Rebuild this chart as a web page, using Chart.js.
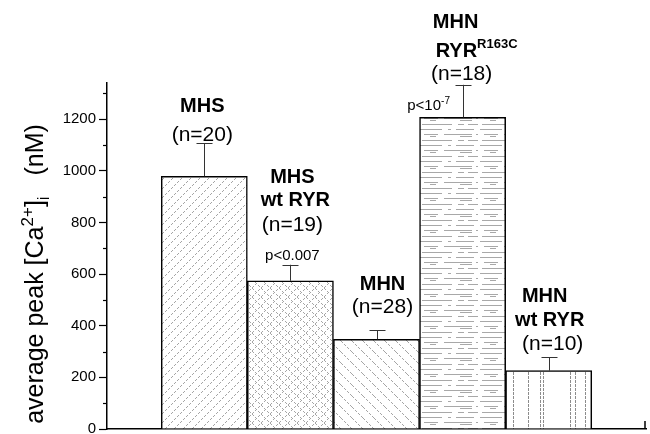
<!DOCTYPE html>
<html>
<head>
<meta charset="utf-8">
<script src="https://cdn.jsdelivr.net/npm/chart.js@4.4.1/dist/chart.umd.min.js"></script>
<style>
  html, body { margin: 0; padding: 0; background: #fff; }
  #wrap { width: 650px; height: 434px; }
</style>
</head>
<body>
<div id="wrap"><canvas id="caChart" width="650" height="434"></canvas></div>
<script>
// Data
const groups = ['MHS', 'MHS wt RYR', 'MHN', 'MHN RYR R163C', 'MHN wt RYR']
const peakCa = [979, 574, 347, 1207, 226]
const peakErr = [127, 62, 36, 126, 51]
const cellCounts = [20, 19, 28, 18, 10]
const yTicks = [0, 200, 400, 600, 800, 1000, 1200]
const yMinorTicks = [100, 300, 500, 700, 900, 1100, 1300]

// text above each bar, bottom line first ( ^{..} = superscript )
const barLabels = [
    ['(n=20)', 'MHS'],
    ['p<0.007', '(n=19)', 'wt RYR', 'MHS'],
    ['(n=28)', 'MHN'],
    ['(n=18)', 'RYR^{R163C}', 'MHN', 'p<10^{-7}'],
    ['(n=10)', 'wt RYR', 'MHN']
]

// placement of those lines relative to the top of the error bar (style only)
const labelLayout = [
    [{dx: -2, dy: -2, f: 'n'}, {dx: -2, dy: -31, f: 'b'}],
    [{dx: 2, dy: -5, f: 'p'}, {dx: 2, dy: -34, f: 'n'}, {dx: 5, dy: -59, f: 'b'}, {dx: 2, dy: -82, f: 'b'}],
    [{dx: 6, dy: -17, f: 'n'}, {dx: 6, dy: -40, f: 'b'}],
    [{dx: -1, dy: -5, f: 'n'}, {dx: 14, dy: -28, f: 'b'}, {dx: -7, dy: -57, f: 'b'}, {dx: -34, dy: 25, f: 'p'}],
    [{dx: 4, dy: -7, f: 'n'}, {dx: 1, dy: -31, f: 'b'}, {dx: -4, dy: -55, f: 'b'}]
]
const fonts = {
    b: {size: 20, weight: 'bold'},
    n: {size: 21, weight: 'normal'},
    p: {size: 15, weight: 'normal'}
}
const FAMILY = '"Liberation Sans", Arial, Helvetica, sans-serif'

// Hatch patterns for the bars
function makePattern(kind) {
    let c = document.createElement('canvas')
    let g
    if (kind == 'slash' || kind == 'back' || kind == 'cross') {
        let s = kind == 'back' ? 11 : 9
        c.width = s; c.height = s
        g = c.getContext('2d')
        g.fillStyle = '#fff'
        g.fillRect(0, 0, s, s)
        g.fillStyle = '#a5a5a5'
        for (let i = 0; i < s; i++) {
            if (i % 3 == 2) continue
            if (kind == 'slash' || kind == 'cross') g.fillRect(i, s - 1 - i, 1, 1)
            if (kind == 'back' || kind == 'cross') g.fillRect(i, i, 1, 1)
        }
    } else if (kind == 'horiz') {
        c.width = 60; c.height = 16
        g = c.getContext('2d')
        g.fillStyle = '#fff'
        g.fillRect(0, 0, 60, 16)
        g.fillStyle = '#a8a8a8'
        g.fillRect(0, 1, 22, 1); g.fillRect(28, 1, 3, 1); g.fillRect(36, 1, 18, 1)
        g.fillRect(4, 6, 14, 1); g.fillRect(24, 6, 28, 1); g.fillRect(56, 6, 2, 1)
        g.fillRect(10, 8, 6, 1); g.fillRect(40, 8, 12, 1)
        g.fillRect(2, 12, 30, 1); g.fillRect(38, 12, 6, 1); g.fillRect(48, 12, 10, 1)
    } else {
        c.width = 100; c.height = 4
        g = c.getContext('2d')
        g.fillStyle = '#fff'
        g.fillRect(0, 0, 100, 4)
        g.fillStyle = '#8c8c8c'
        for (const x of [13, 28, 40, 43, 70, 75, 85]) g.fillRect(x, 0, 1, 3)
    }
    return c.getContext('2d').createPattern(c, 'repeat')
}
const barFills = ['slash', 'cross', 'back', 'horiz', 'vert'].map(makePattern)

// draw text with ^{sup} / _{sub} pieces, centred on x
function drawRich(ctx, str, x, y, size, weight, align) {
    let parts = []
    let re = /([\^_])\{([^}]*)\}|([^\^_]+)/g
    let m
    while ((m = re.exec(str)) !== null) {
        if (m[3]) parts.push({t: m[3], k: 'n'})
        else parts.push({t: m[2], k: m[1] == '^' ? 'sup' : 'sub'})
    }
    let fontFor = k => weight + ' ' + (k == 'n' ? size : Math.round(size * 0.66)) + 'px ' + FAMILY
    let total = 0
    for (const p of parts) { ctx.font = fontFor(p.k); p.w = ctx.measureText(p.t).width; total += p.w }
    let cx = align == 'left' ? x : x - total / 2
    ctx.textBaseline = 'alphabetic'
    ctx.textAlign = 'left'
    for (const p of parts) {
        ctx.font = fontFor(p.k)
        let dy = p.k == 'sup' ? -size * 0.42 : (p.k == 'sub' ? size * 0.22 : 0)
        ctx.fillText(p.t, cx, y + dy)
        cx += p.w
    }
}

const extrasPlugin = {
    id: 'extras',
    afterDatasetsDraw(chart) {
        const ctx = chart.ctx
        const xs = chart.scales.x
        const ys = chart.scales.y
        ctx.save()
        // error bars (upward only)
        ctx.strokeStyle = '#333'
        ctx.lineWidth = 1
        peakCa.forEach((v, i) => {
            let x = Math.round(xs.getPixelForValue(i)) + 0.5
            let y0 = ys.getPixelForValue(v)
            let y1 = ys.getPixelForValue(v + peakErr[i])
            ctx.beginPath()
            ctx.moveTo(x, y0); ctx.lineTo(x, y1)
            ctx.moveTo(x - 8, Math.round(y1) + 0.5); ctx.lineTo(x + 8, Math.round(y1) + 0.5)
            ctx.stroke()
        })
        // labels above bars
        ctx.fillStyle = '#000'
        barLabels.forEach((lines, i) => {
            let x = xs.getPixelForValue(i)
            let top = ys.getPixelForValue(peakCa[i] + peakErr[i])
            lines.forEach((txt, j) => {
                let lay = labelLayout[i][j]
                let f = fonts[lay.f]
                drawRich(ctx, txt, x + lay.dx, top + lay.dy, f.size, f.weight, 'center')
            })
        })
        // minor ticks on y axis
        ctx.strokeStyle = '#000'
        ctx.lineWidth = 1.2
        let left = chart.chartArea.left
        for (const v of yMinorTicks) {
            let y = Math.round(ys.getPixelForValue(v)) + 0.5
            ctx.beginPath(); ctx.moveTo(left - 4, y); ctx.lineTo(left, y); ctx.stroke()
        }
        // end tick on x axis
        let right = chart.chartArea.right
        let bottom = chart.chartArea.bottom
        ctx.lineWidth = 1.5
        ctx.beginPath(); ctx.moveTo(right - 1, bottom); ctx.lineTo(right - 1, bottom - 8); ctx.stroke()
        // y axis title
        ctx.translate(43, 274)
        ctx.rotate(-Math.PI / 2)
        drawRich(ctx, 'average peak [Ca^{2+}]_{i}   (nM)', 0, 0, 25, 'normal', 'center')
        ctx.restore()
    }
}

const data = {
    datasets: [{
        label: 'average peak [Ca2+]i',
        data: peakCa.map((v, i) => ({x: i, y: v})),
        backgroundColor: barFills,
        borderColor: '#000',
        borderWidth: 1.5,
        borderSkipped: 'bottom',
        categoryPercentage: 1,
        barPercentage: 1
    }]
}

const config = {
    type: 'bar',
    data,
    plugins: [extrasPlugin],
    options: {
        responsive: false,
        animation: false,
        layout: { padding: { top: 83, right: 4, left: 0, bottom: 0 } },
        plugins: {
            legend: { display: false },
            tooltip: { enabled: false }
        },
        scales: {
            x: {
                type: 'linear',
                offset: false,
                min: -1.13,
                max: 5.13,
                grid: { display: false, drawTicks: false },
                ticks: { display: false, stepSize: 1, includeBounds: false },
                border: { display: true, color: '#000', width: 1.5 },
                afterFit: scale => { scale.height = 5 }
            },
            y: {
                min: 0,
                max: 1340,
                grid: { display: true, drawOnChartArea: false, drawTicks: true, tickLength: 8, color: '#000', tickWidth: 1.2 },
                border: { display: true, color: '#000', width: 1.5 },
                ticks: {
                    stepSize: 200,
                    includeBounds: false,
                    padding: 3,
                    color: '#000',
                    font: { family: FAMILY, size: 15 },
                    callback: v => yTicks.includes(v) ? String(v) : ''
                },
                afterFit: scale => {
                    scale.width = 107
                    scale.paddingTop = 0
                    scale.paddingBottom = 0
                }
            }
        }
    }
}

const caChart = new Chart(document.getElementById('caChart'), config)
</script>
</body>
</html>
